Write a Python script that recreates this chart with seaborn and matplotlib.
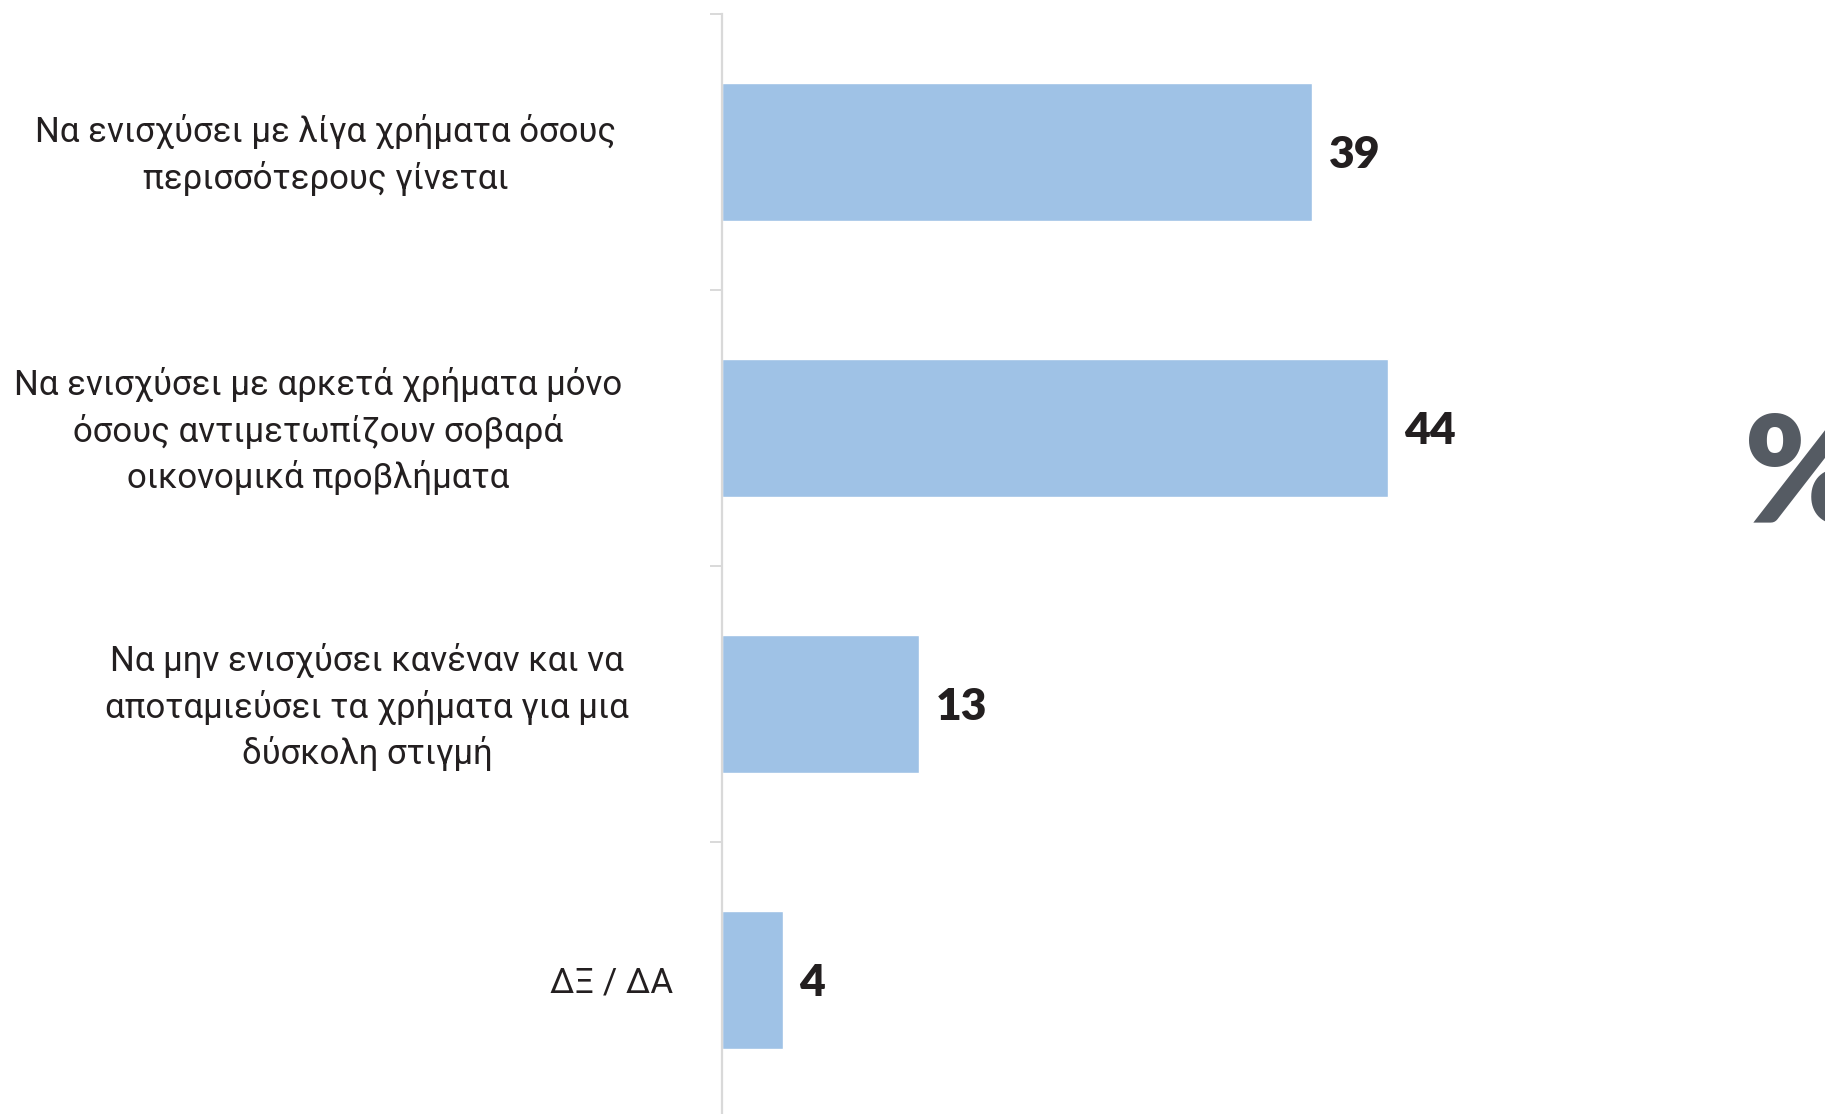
import matplotlib
import matplotlib.pyplot as plt
import matplotlib.transforms as mtransforms
import pandas as pd
import seaborn as sns

matplotlib.use('agg')

answers = [
    'Να ενισχύσει με λίγα χρήματα όσους\nπερισσότερους γίνεται',
    'Να ενισχύσει με αρκετά χρήματα μόνο\nόσους αντιμετωπίζουν σοβαρά\nοικονομικά προβλήματα',
    'Να μην ενισχύσει κανέναν και να\nαποταμιεύσει τα χρήματα για μια\nδύσκολη στιγμή',
    'ΔΞ / ΔΑ',
]
shares = [39, 44, 13, 4]

df = pd.DataFrame({'answer': answers, 'share': shares})

sns.set_style('white')
plt.rcParams['font.family'] = ['Roboto', 'DejaVu Sans']

fig = plt.figure(figsize=(18.25, 11.14), dpi=100)
ax = fig.add_axes([722 / 1825, 0, 1 - 722 / 1825, 1 - 14 / 1114])

sns.barplot(data=df, x='share', y='answer', orient='h', color='#9fc2e6',
            saturation=1, width=0.5, ax=ax)

ax.set_xlim(0, 72.9)
ax.set_ylim(3.486, -0.5)
ax.set_xlabel('')
ax.set_ylabel('')
ax.set_xticks([])

for s in ['top', 'right', 'bottom']:
    ax.spines[s].set_visible(False)
ax.spines['left'].set_color('#d9d9d9')
ax.spines['left'].set_linewidth(1.6)

# category separators on the axis
ax.set_yticks([-0.5, 0.5, 1.5, 2.5], minor=True)
ax.tick_params(axis='y', which='minor', length=9, width=1.4, color='#d9d9d9', left=True)
ax.tick_params(axis='y', which='major', length=0, pad=72, labelsize=25, labelcolor='#231f20')

# small per-label nudges (px) to follow the original layout
shifts = [(-6, 6), (0, 6), (7, 6), (51, 0)]
for lbl, (dx, dy) in zip(ax.get_yticklabels(), shifts):
    lbl.set_horizontalalignment('right')
    lbl.set_multialignment('center')
    lbl.set_linespacing(1.4)
    lbl.set_transform(lbl.get_transform() + mtransforms.ScaledTranslation(dx / 100, dy / 100, fig.dpi_scale_trans))

for p, v in zip(ax.patches, shares):
    ax.annotate(str(v), (p.get_width(), p.get_y() + p.get_height() / 2),
                xytext=(12, 0), textcoords='offset points', ha='left', va='center_baseline',
                fontsize=32, fontweight='heavy', color='#231f20', family=['Lato', 'DejaVu Sans'])

fig.text(1744 / 1825, 1 - 480 / 1114, '%', ha='left', va='center', fontsize=107,
         fontweight='heavy', color='#555b63', family=['Lato', 'DejaVu Sans'])

fig.savefig('out.png', dpi=100)
